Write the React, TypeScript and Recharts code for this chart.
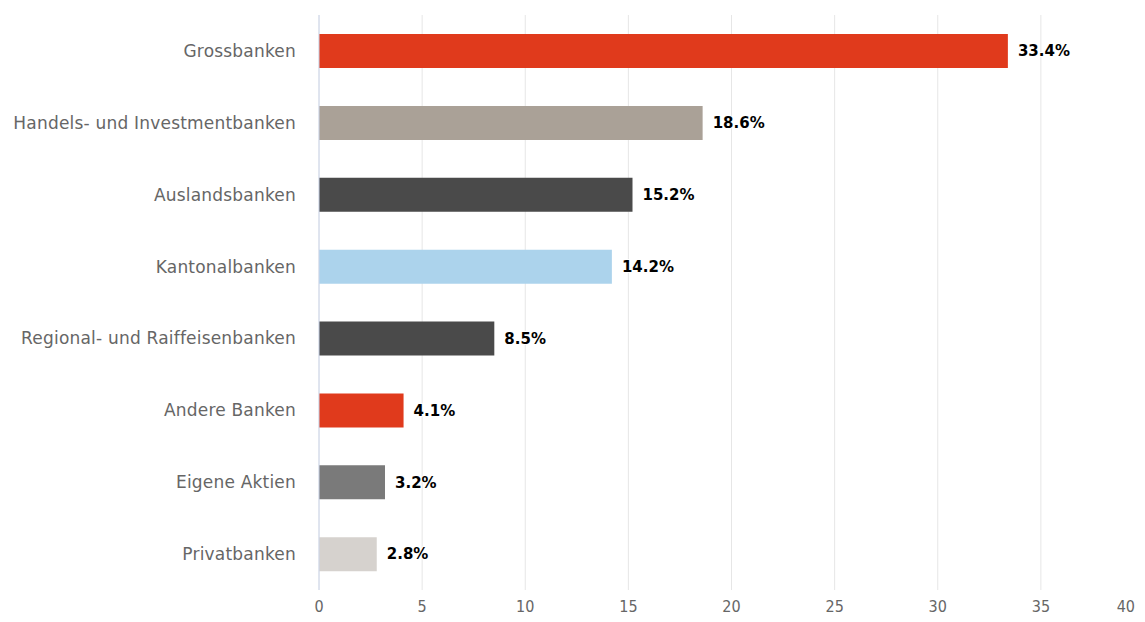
import { BarChart, Bar, XAxis, YAxis, CartesianGrid, Cell, LabelList } from "recharts"

const categories = [
  "Grossbanken",
  "Handels- und Investmentbanken",
  "Auslandsbanken",
  "Kantonalbanken",
  "Regional- und Raiffeisenbanken",
  "Andere Banken",
  "Eigene Aktien",
  "Privatbanken",
]
const shares = [33.4, 18.6, 15.2, 14.2, 8.5, 4.1, 3.2, 2.8]
const barColors = ["#e03a1c", "#aaa197", "#4a4a4a", "#acd3ec", "#4a4a4a", "#e03a1c", "#7a7a7a", "#d6d2ce"]
const xTicks = [0, 5, 10, 15, 20, 25, 30, 35, 40]

const data = categories.map((name, i) => ({ name, value: shares[i] }))

const XTick = (props: any) => {
  const { x, y, payload } = props
  const last = payload.value === 40
  return (
    <text
      x={last ? 1127 : x}
      y={y}
      dy={16}
      textAnchor={last ? "end" : "middle"}
      fill="#666"
      fontSize={16}
      fontFamily="DejaVu Sans Condensed, DejaVu Sans"
    >
      {payload.value}
    </text>
  )
}

export default function App() {
  return (
    <div style={{ width: 1137, height: 614, overflow: "hidden", marginBottom: -8 }}>
      <BarChart
        width={1150}
        height={614}
        data={data}
        layout="vertical"
        margin={{ top: 7, right: 14, left: 0, bottom: 0 }}
        barSize={34}
      >
        <CartesianGrid horizontal={false} stroke="#e6e6e6" />
        <XAxis
          type="number"
          domain={[0, 40]}
          ticks={xTicks}
          axisLine={false}
          tickLine={false}
          height={32}
          tick={<XTick />}
          tickMargin={0}
        />
        <YAxis
          type="category"
          dataKey="name"
          width={311}
          axisLine={{ stroke: "#ccd6eb" }}
          tickLine={false}
          tickMargin={17}
          tick={{ fill: "#666", fontSize: 17, letterSpacing: 0.2, fontFamily: "DejaVu Sans" }}
        />
        <Bar dataKey="value" isAnimationActive={false}>
          {data.map((d, i) => (
            <Cell key={d.name} fill={barColors[i]} />
          ))}
          <LabelList
            dataKey="value"
            position="right"
            offset={10}
            formatter={(v: any) => `${v}%`}
            style={{
              fill: "#000",
              fontSize: 15,
              fontWeight: "bold",
              fontFamily: "DejaVu Sans",
              stroke: "#fff",
              strokeWidth: 2,
              paintOrder: "stroke",
            }}
          />
        </Bar>
      </BarChart>
    </div>
  )
}
